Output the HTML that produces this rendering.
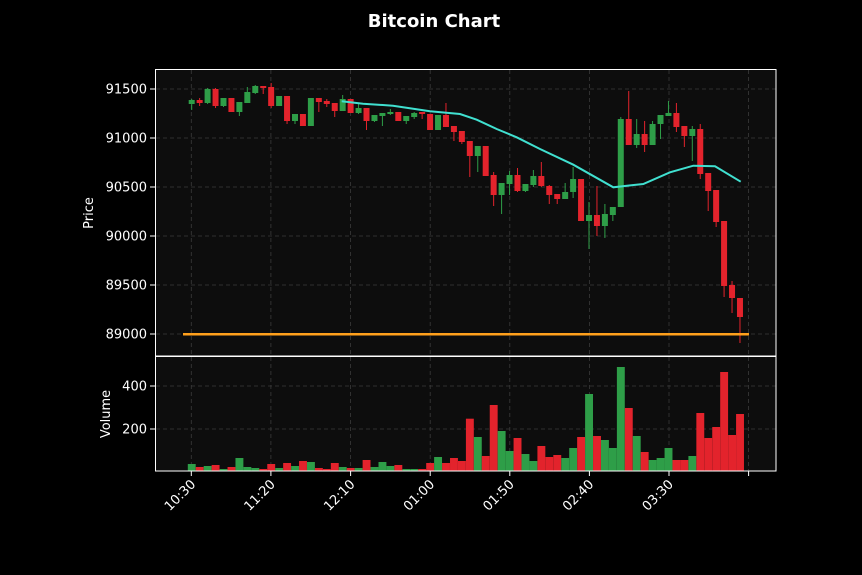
<!DOCTYPE html>
<html><head><meta charset="utf-8"><style>
html,body{margin:0;padding:0;background:#000;}
svg{display:block;font-family:"DejaVu Sans","Liberation Sans",sans-serif;}
</style></head><body>
<svg id="s" width="862" height="575" viewBox="0 0 862 575" xmlns="http://www.w3.org/2000/svg">
<rect width="862" height="575" fill="#000"/>
<text x="434" y="27" fill="#fff" font-size="18" font-weight="bold" text-anchor="middle">Bitcoin Chart</text>
<rect x="155.5" y="69.5" width="620.5" height="286.5" fill="#0d0d0d"/>
<rect x="155.5" y="356.5" width="620.5" height="114.5" fill="#0d0d0d"/>
<g id="grid" stroke="#3a3a3a" stroke-width="0.8" stroke-dasharray="4,3"></g>
<g id="vol"></g>
<g id="candles"></g>
<polyline fill="none" stroke="#40e0d0" stroke-width="2" points="341.7,101.3 363,103.7 393,105.7 430,111.3 460,114 476.7,119.7 496.7,129 516.7,137.3 540,149 573.3,164.7 613.3,187.3 643.3,184 670,172.3 693.3,165.7 715,166.3 740.7,181.7"/>
<line x1="183" y1="334.3" x2="749" y2="334.3" stroke="#ffa01c" stroke-width="2.5"/>
<rect x="155.5" y="69.5" width="620.5" height="286.5" fill="none" stroke="#fff" stroke-width="1"/>
<rect x="155.5" y="356.5" width="620.5" height="114.5" fill="none" stroke="#fff" stroke-width="1"/>
<g id="labels" fill="#fff" font-size="13"></g>
<text transform="translate(93,213) rotate(-90)" fill="#fff" font-size="13" text-anchor="middle">Price</text>
<text transform="translate(110,414) rotate(-90)" fill="#fff" font-size="13" text-anchor="middle">Volume</text>
</svg>
<script>
var NS="http://www.w3.org/2000/svg";
function el(p,t,a,txt){var e=document.createElementNS(NS,t);for(var k in a)e.setAttribute(k,a[k]);if(txt)e.textContent=txt;document.getElementById(p).appendChild(e);return e;}
var G="#2e9e48",R="#e3232c";
var xt=[191.3,270.9,350.6,430.2,509.8,589.4,669,748.6],xl=["10:30","11:20","12:10","01:00","01:50","02:40","03:30",""];
xt.forEach(function(x,i){
 el("grid","line",{x1:x,y1:70,x2:x,y2:356});el("grid","line",{x1:x,y1:357,x2:x,y2:471});
 el("labels","line",{x1:x,y1:471,x2:x,y2:476,stroke:"#fff","stroke-width":1});
 if(xl[i])el("labels","text",{transform:"translate("+(x+5)+",485) rotate(-45)","text-anchor":"end"},xl[i]);
});
[[89,"91500"],[138,"91000"],[187,"90500"],[236,"90000"],[285,"89500"],[334,"89000"]].forEach(function(p){
 el("grid","line",{x1:156,y1:p[0],x2:776,y2:p[0]});
 el("labels","line",{x1:150,y1:p[0],x2:155,y2:p[0],stroke:"#fff","stroke-width":1});
 el("labels","text",{x:147,y:p[0]+4.5,"text-anchor":"end"},p[1]);
});
[[386,"400"],[429,"200"]].forEach(function(p){
 el("grid","line",{x1:156,y1:p[0],x2:776,y2:p[0]});
 el("labels","line",{x1:150,y1:p[0],x2:155,y2:p[0],stroke:"#fff","stroke-width":1});
 el("labels","text",{x:147,y:p[0]+4.5,"text-anchor":"end"},p[1]);
});
var C=[["g",100,104,99,110],["r",100,103,98,106],["g",89,103,88,104],["r",89,106,88,108],["g",98,106,98,107],["r",98,112],["g",102,112,102,116],["g",92,103,87,103],["g",86,93,85,94],["r",86,88,86,94],
["r",87,106,83,108],["g",96,106],["r",96,121,96,124],["g",114,121,114,124],["r",114,126],["g",98,126],["r",98,102,98,112],["r",101,104,99,107],["r",103,111,103,117],["g",99,111,95,111],
["r",99,113],["g",108,113,104,114],["r",108,121,108,130],["g",115,121,115,122],["g",113,116,113,126],["g",112,114,109,115],["r",112,121],["g",116,121,116,124],["g",113,117,112,119],["r",112,114,112,119],
["r",114,130],["g",115,130],["r",115,127,103,127],["r",126,132,126,141],["r",131,142,131,144],["r",141,156,141,177],["g",146,156,146,172],["r",146,176],["r",175,195,172,206],["g",183,195,183,214],
["g",175,184,171,195],["r",175,191,168,192],["g",184,191,184,192],["g",176,185,170,187],["r",176,186,162,187],["r",186,195,185,204],["r",194,199,194,204],["g",192,199,183,199],["g",179,192,167,198],["r",179,221],
["g",215,221,202,249],["r",215,226,186,236],["g",214,226,204,238],["g",207,215,207,221],["g",119,207,117,207],["r",119,145,91,145],["g",134,145,119,148],["r",134,145,121,152],["g",124,145,121,145],["g",115,124,115,139],
["g",113,116,101,116],["r",113,127,103,132],["r",126,136,126,147],["g",129,136,126,161],["r",129,174,124,179],["r",173,191,173,211],["r",190,222,190,227],["r",221,286,221,297],["r",285,298,281,313],["r",298,317,298,343]];
var V=[464,467,466,465,469,467,458,467,468,469,464,468,463,466,461,462,468,469,463,467,468,468,460,467,462,466,465,469,469,469,463,457,463,458,461,418.7,437,456,405,431,451,438,454,461,446,457,455,458,448,437,394,436,440,448,367,408,436,452,460,458,448,460,460,456,413,438,427,372,435,414];
C.forEach(function(c,i){
 var x=191.7+i*7.946,col=c[0]=="g"?G:R;
 var wt=c.length>3?c[3]:c[1],wb=c.length>4?c[4]:c[2];
 el("candles","line",{x1:x,y1:wt,x2:x,y2:wb,stroke:col,"stroke-width":1});
 el("candles","rect",{x:x-3,y:c[1],width:6,height:Math.max(1.5,c[2]-c[1]),fill:col});
 el("vol","rect",{x:x-3.9,y:V[i],width:7.9,height:471-V[i],fill:col});
});
</script>
</body></html>
